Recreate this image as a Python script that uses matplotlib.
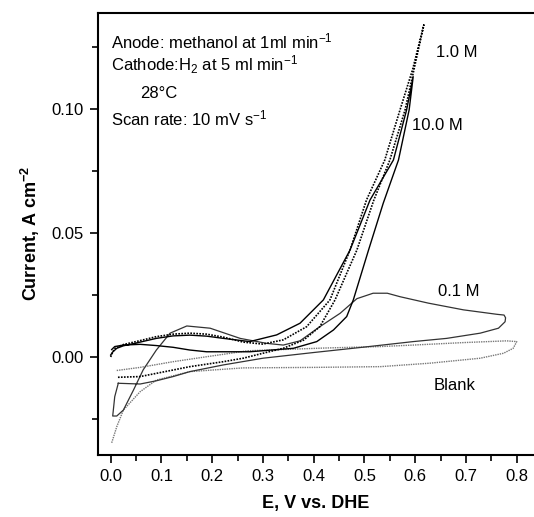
import matplotlib
matplotlib.use("Agg")
import matplotlib.pyplot as plt

plt.rcParams['font.family'] = ['Liberation Sans', 'DejaVu Sans']
plt.rcParams['mathtext.fontset'] = 'custom'
plt.rcParams['mathtext.rm'] = 'Liberation Sans'
plt.rcParams['mathtext.it'] = 'Liberation Sans:italic'
plt.rcParams['mathtext.bf'] = 'Liberation Sans:bold'

# 10.0 M methanol (solid)
x_10M = [0.0, 0.004, 0.012, 0.025, 0.058, 0.09, 0.123, 0.156, 0.189, 0.222, 0.274,
         0.327, 0.373, 0.419, 0.4715, 0.511, 0.557, 0.583, 0.596, 0.588, 0.567,
         0.537, 0.508, 0.478, 0.465, 0.439, 0.406, 0.36, 0.274, 0.222, 0.189,
         0.156, 0.123, 0.09, 0.058, 0.025, 0.008, 0.002]
y_10M = [0.0008, 0.002, 0.0035, 0.0045, 0.006, 0.0075, 0.0085, 0.0088, 0.0084, 0.0075, 0.0062,
         0.0089, 0.0136, 0.023, 0.0431, 0.0633, 0.0794, 0.0996, 0.113, 0.0996, 0.0794,
         0.062, 0.0431, 0.023, 0.0163, 0.0109, 0.0062, 0.0035, 0.0021, 0.0021, 0.0021,
         0.0028, 0.0039, 0.0046, 0.0051, 0.0048, 0.0042, 0.003]

# 1.0 M methanol (dotted)
x_1M = [0.0, 0.004, 0.0085, 0.025, 0.058, 0.09, 0.123, 0.156, 0.189, 0.222, 0.261,
        0.3, 0.34, 0.386, 0.432, 0.4715, 0.504, 0.54, 0.57, 0.595, 0.617,
        0.58, 0.55, 0.518, 0.485, 0.442, 0.412, 0.38, 0.34, 0.3, 0.261, 0.222,
        0.156, 0.09, 0.058, 0.012]
y_1M = [0.0, 0.002, 0.0035, 0.005, 0.0066, 0.0082, 0.0092, 0.0096, 0.0092, 0.008, 0.006,
        0.0052, 0.0069, 0.0122, 0.023, 0.0431, 0.0633, 0.0794, 0.0996, 0.116, 0.1339,
        0.0996, 0.0794, 0.063, 0.0431, 0.023, 0.0122, 0.0068, 0.0035, 0.0015, -0.0005, -0.0019,
        -0.0039, -0.0066, -0.0079, -0.0082]

# 0.1 M methanol (thin solid)
x_01M = [0.015, 0.008, 0.004, 0.012, 0.025, 0.045, 0.064, 0.09, 0.117, 0.15, 0.196,
         0.255, 0.307, 0.34, 0.373, 0.412, 0.452, 0.485, 0.517, 0.545, 0.57, 0.626,
         0.695, 0.761, 0.775, 0.778, 0.777, 0.764, 0.728, 0.662, 0.596, 0.5, 0.4,
         0.3, 0.222, 0.156, 0.123, 0.09, 0.058, 0.015]
y_01M = [-0.0106, -0.016, -0.0238, -0.0238, -0.0214, -0.0133, -0.0052, 0.0028, 0.0096, 0.0125, 0.0116,
         0.0075, 0.0055, 0.0048, 0.0065, 0.0122, 0.0176, 0.0235, 0.0257, 0.0257, 0.0243, 0.0217,
         0.019, 0.0172, 0.0169, 0.0158, 0.0142, 0.0116, 0.0096, 0.0075, 0.0062, 0.004, 0.0018,
         -0.0005, -0.0032, -0.0059, -0.0079, -0.0096, -0.0109, -0.0106]

# Blank (fine dotted)
x_blank = [0.002, 0.012, 0.025, 0.058, 0.09, 0.156, 0.261, 0.4, 0.531, 0.629, 0.728,
           0.774, 0.793, 0.8, 0.78, 0.695, 0.596, 0.531, 0.42, 0.27, 0.189, 0.123,
           0.058, 0.01]
y_blank = [-0.0346, -0.0281, -0.0214, -0.014, -0.0093, -0.0059, -0.0044, -0.0042, -0.0039, -0.0025, -0.0005,
           0.0015, 0.0035, 0.0062, 0.0065, 0.0058, 0.0048, 0.0042, 0.0036, 0.0025, 0.0001, -0.0019,
           -0.0042, -0.0055]

fig = plt.figure(figsize=(5.34, 5.17), dpi=100)
ax = fig.add_axes([0.1835, 0.12, 0.8165, 0.855])

ax.plot(x_blank, y_blank, color='#777777', lw=1.0, linestyle=(0, (1, 0.7)))
ax.plot(x_01M, y_01M, color='#333333', lw=0.9)
ax.plot(x_1M, y_1M, color='black', lw=1.2, linestyle=(0, (1, 0.8)))
ax.plot(x_10M, y_10M, color='black', lw=1.0)

ax.set_xlim(-0.025, 0.834)
ax.set_ylim(-0.0395, 0.1387)

ax.set_xticks([0.0, 0.1, 0.2, 0.3, 0.4, 0.5, 0.6, 0.7, 0.8])
ax.set_xticks([0.05, 0.15, 0.25, 0.35, 0.45, 0.55, 0.65, 0.75], minor=True)
ax.set_yticks([0.0, 0.05, 0.10])
ax.set_yticks([-0.025, 0.025, 0.075, 0.125], minor=True)
ax.set_xticklabels(['0.0', '0.1', '0.2', '0.3', '0.4', '0.5', '0.6', '0.7', '0.8'])
ax.set_yticklabels(['0.00', '0.05', '0.10'])

ax.tick_params(which='major', direction='out', length=6, width=1.2, labelsize=12, pad=4)
ax.tick_params(which='minor', direction='out', length=4, width=1.2)
ax.spines['right'].set_visible(False)
for s in ['left', 'top', 'bottom']:
    ax.spines[s].set_linewidth(1.5)

ax.set_xlabel('E, V vs. DHE', fontsize=13, fontweight='bold', labelpad=8)
ax.set_ylabel('Current, A cm$^{\\mathbf{-2}}$', fontsize=13, fontweight='bold', labelpad=7)

ax.text(0.0, 0.1245, 'Anode: methanol at 1ml min$^{-1}$', fontsize=12)
ax.text(0.0, 0.1155, 'Cathode:H$_2$ at 5 ml min$^{-1}$', fontsize=12)
ax.text(0.058, 0.1045, '28°C', fontsize=12)
ax.text(0.0, 0.0935, 'Scan rate: 10 mV s$^{-1}$', fontsize=12)

ax.text(0.64, 0.121, '1.0 M', fontsize=12)
ax.text(0.594, 0.0915, '10.0 M', fontsize=12)
ax.text(0.644, 0.0245, '0.1 M', fontsize=12)
ax.text(0.636, -0.0135, 'Blank', fontsize=12)

fig.savefig('out.png', dpi=100)
